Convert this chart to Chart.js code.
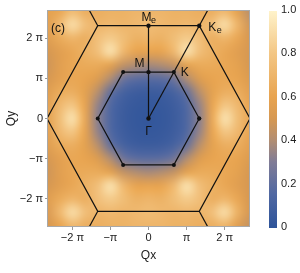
<!DOCTYPE html>
<html>
<head>
<meta charset="utf-8">
<script src="https://cdn.jsdelivr.net/npm/chart.js@4.4.0/dist/chart.umd.min.js"></script>
<style>
html, body { margin: 0; padding: 0; background: #fff; }
#wrap { width: 300px; height: 273px; }
</style>
</head>
<body>
<div id="wrap"><canvas id="chart" width="300" height="273"></canvas></div>
<script>
const PI = Math.PI;
const S3 = Math.sqrt(3);

// grid nodes, in units of pi/3 (same for Qx and Qy)
const gridSteps = [-8, -7, -6, -5, -4, -3, -2, -1, 0, 1, 2, 3, 4, 5, 6, 7, 8];

// intensity, rows from top (Qy = 8pi/3) to bottom (Qy = -8pi/3)
const intensity = [
    [0.58, 0.62, 0.74, 0.66, 0.66, 0.68, 0.68, 0.70, 0.70, 0.70, 0.68, 0.68, 0.66, 0.66, 0.72, 0.58, 0.42],
    [0.56, 0.72, 0.90, 0.76, 0.70, 0.72, 0.70, 0.72, 0.74, 0.72, 0.70, 0.72, 0.70, 0.76, 0.90, 0.70, 0.48],
    [0.55, 0.64, 0.70, 0.66, 0.76, 0.82, 0.75, 0.68, 0.70, 0.68, 0.75, 0.82, 0.76, 0.66, 0.70, 0.62, 0.50],
    [0.50, 0.56, 0.62, 0.68, 0.76, 0.92, 0.72, 0.60, 0.60, 0.60, 0.72, 0.92, 0.76, 0.68, 0.62, 0.56, 0.50],
    [0.48, 0.56, 0.62, 0.64, 0.64, 0.58, 0.45, 0.40, 0.38, 0.40, 0.45, 0.58, 0.64, 0.64, 0.62, 0.58, 0.50],
    [0.50, 0.57, 0.62, 0.60, 0.54, 0.40, 0.25, 0.19, 0.18, 0.19, 0.25, 0.40, 0.54, 0.60, 0.62, 0.60, 0.53],
    [0.55, 0.64, 0.66, 0.58, 0.42, 0.22, 0.11, 0.07, 0.06, 0.07, 0.11, 0.22, 0.42, 0.58, 0.66, 0.65, 0.57],
    [0.57, 0.72, 0.80, 0.60, 0.34, 0.15, 0.07, 0.04, 0.03, 0.04, 0.07, 0.15, 0.34, 0.60, 0.80, 0.72, 0.60],
    [0.58, 0.75, 0.92, 0.62, 0.32, 0.14, 0.06, 0.03, 0.02, 0.03, 0.06, 0.14, 0.32, 0.62, 0.92, 0.75, 0.62],
    [0.57, 0.72, 0.80, 0.60, 0.34, 0.15, 0.07, 0.04, 0.03, 0.04, 0.07, 0.15, 0.34, 0.60, 0.80, 0.72, 0.60],
    [0.55, 0.64, 0.66, 0.58, 0.42, 0.22, 0.11, 0.07, 0.06, 0.07, 0.11, 0.22, 0.42, 0.58, 0.66, 0.65, 0.57],
    [0.50, 0.57, 0.62, 0.60, 0.54, 0.40, 0.25, 0.19, 0.18, 0.19, 0.25, 0.40, 0.54, 0.60, 0.62, 0.60, 0.53],
    [0.48, 0.56, 0.62, 0.64, 0.64, 0.58, 0.45, 0.40, 0.38, 0.40, 0.45, 0.58, 0.64, 0.64, 0.62, 0.58, 0.50],
    [0.50, 0.56, 0.62, 0.68, 0.76, 0.92, 0.72, 0.60, 0.60, 0.60, 0.72, 0.92, 0.76, 0.68, 0.62, 0.56, 0.50],
    [0.55, 0.64, 0.70, 0.66, 0.76, 0.82, 0.75, 0.68, 0.70, 0.68, 0.75, 0.82, 0.76, 0.66, 0.70, 0.62, 0.50],
    [0.52, 0.72, 0.90, 0.76, 0.70, 0.72, 0.70, 0.72, 0.74, 0.72, 0.70, 0.72, 0.70, 0.76, 0.90, 0.68, 0.50],
    [0.50, 0.60, 0.72, 0.66, 0.66, 0.68, 0.68, 0.70, 0.70, 0.70, 0.68, 0.68, 0.66, 0.66, 0.70, 0.56, 0.45]
];

// axis ticks (multiples of pi) and colour bar ticks
const qTicks = [-2, -1, 0, 1, 2];
const qTickLabels = ['\u22122 \u03c0', '\u2212\u03c0', '0', '\u03c0', '2 \u03c0'];
const cbTicks = [0, 0.2, 0.4, 0.6, 0.8, 1.0];

// colour map stops
const cmapStops = [0, 0.15, 0.3, 0.4, 0.5, 0.6, 0.8, 1.0];
const cmapColors = [
    [46, 84, 154], [80, 104, 162], [128, 124, 150], [178, 142, 114],
    [214, 152, 82], [232, 164, 80], [243, 198, 132], [255, 244, 204]
];

// Brillouin zone corners, in units of pi
const innerHex = [[4/3, 0], [2/3, 2/S3], [-2/3, 2/S3], [-4/3, 0], [-2/3, -2/S3], [2/3, -2/S3], [4/3, 0]];
const outerHex = [[8/3, 0], [4/3, 4/S3], [-4/3, 4/S3], [-8/3, 0], [-4/3, -4/S3], [4/3, -4/S3], [8/3, 0]];
const outerSpurs = [
    [[4/3, 4/S3], [8/3, 8/S3]],
    [[-4/3, 4/S3], [-8/3, 8/S3]],
    [[4/3, -4/S3], [8/3, -8/S3]],
    [[-4/3, -4/S3], [-8/3, -8/S3]]
];
const pathGM = [[0, 0], [0, 4/S3]];
const pathGK = [[0, 0], [4/3, 4/S3]];
const symPoints = [[0, 0], [0, 2/S3], [0, 4/S3], [4/3, 4/S3]];

// high-symmetry labels: name, subscript, point (units of pi), pixel nudge
const symLabels = [
    { text: '\u0393', sub: '', at: [0, 0], dx: 0, dy: 13 },
    { text: 'M', sub: '', at: [0, 2/S3], dx: -9, dy: -8 },
    { text: 'K', sub: '', at: [2/3, 2/S3], dx: 11, dy: 1 },
    { text: 'M', sub: 'e', at: [0, 4/S3], dx: -2, dy: -8 },
    { text: 'K', sub: 'e', at: [4/3, 4/S3], dx: 13, dy: 2 }
];

const FONT = '"Liberation Sans", Arial, sans-serif';

function toPts(list) {
    return list.map(p => ({ x: p[0] * PI, y: p[1] * PI }));
}

function colorAt(v) {
    v = Math.max(0, Math.min(1, v));
    for (let k = 1; k < cmapStops.length; k++) {
        if (v <= cmapStops[k]) {
            const t = (v - cmapStops[k - 1]) / (cmapStops[k] - cmapStops[k - 1]);
            const a = cmapColors[k - 1], b = cmapColors[k];
            return a.map((c, n) => Math.round(c + (b[n] - c) * t));
        }
    }
    return cmapColors[cmapColors.length - 1];
}

// small bitmap of the intensity grid, one pixel per node
const heatCanvas = document.createElement('canvas');
heatCanvas.width = gridSteps.length;
heatCanvas.height = intensity.length;
(function () {
    const hctx = heatCanvas.getContext('2d');
    const img = hctx.createImageData(heatCanvas.width, heatCanvas.height);
    intensity.forEach((row, r) => {
        row.forEach((v, c) => {
            const rgb = colorAt(v);
            const o = (r * heatCanvas.width + c) * 4;
            img.data[o] = rgb[0]; img.data[o + 1] = rgb[1]; img.data[o + 2] = rgb[2]; img.data[o + 3] = 255;
        });
    });
    hctx.putImageData(img, 0, 0);
})();

const heatmapPlugin = {
    id: 'heatmap',
    beforeDatasetsDraw(chart) {
        const { ctx, chartArea: a, scales } = chart;
        const step = PI / 3;
        const x0 = scales.x.getPixelForValue((gridSteps[0] - 0.5) * step);
        const x1 = scales.x.getPixelForValue((gridSteps[gridSteps.length - 1] + 0.5) * step);
        const y0 = scales.y.getPixelForValue((gridSteps[gridSteps.length - 1] + 0.5) * step);
        const y1 = scales.y.getPixelForValue((gridSteps[0] - 0.5) * step);
        ctx.save();
        ctx.beginPath();
        ctx.rect(a.left, a.top, a.right - a.left, a.bottom - a.top);
        ctx.clip();
        ctx.imageSmoothingEnabled = true;
        ctx.imageSmoothingQuality = 'high';
        ctx.drawImage(heatCanvas, x0, y0, x1 - x0, y1 - y0);
        ctx.restore();

        // colour bar next to its axis
        const cb = scales.cb;
        const top = cb.getPixelForValue(1), bottom = cb.getPixelForValue(0);
        const grad = ctx.createLinearGradient(0, bottom, 0, top);
        cmapStops.forEach((s, k) => grad.addColorStop(s, 'rgb(' + cmapColors[k].join(',') + ')'));
        ctx.save();
        ctx.fillStyle = grad;
        ctx.fillRect(a.right + 19, top + 1, 8, bottom - top);
        ctx.restore();
    },
    afterDatasetsDraw(chart) {
        const { ctx, chartArea: a, scales } = chart;
        ctx.save();
        ctx.strokeStyle = '#a8a8a8';
        ctx.lineWidth = 1;
        ctx.strokeRect(a.left + 0.5, a.top + 0.5, a.right - a.left - 1, a.bottom - a.top - 1);

        ctx.fillStyle = '#111';
        ctx.textAlign = 'center';
        ctx.textBaseline = 'middle';
        symLabels.forEach(l => {
            const px = scales.x.getPixelForValue(l.at[0] * PI) + l.dx;
            const py = scales.y.getPixelForValue(l.at[1] * PI) + l.dy;
            ctx.font = '12px ' + FONT;
            ctx.fillText(l.text, px, py);
            if (l.sub) {
                ctx.font = '9px ' + FONT;
                ctx.fillText(l.sub, px + 7, py + 3);
            }
        });
        ctx.font = '12px ' + FONT;
        ctx.textAlign = 'left';
        ctx.fillText('(c)', a.left + 4, a.top + 19);
        ctx.restore();
    }
};

const lineStyle = { showLine: true, borderColor: '#111', borderWidth: 1.2, pointRadius: 0, fill: false };

const datasets = [
    Object.assign({ data: toPts(outerHex) }, lineStyle),
    ...outerSpurs.map(s => Object.assign({ data: toPts(s) }, lineStyle)),
    Object.assign({ data: toPts(innerHex) }, lineStyle, { pointRadius: 2, pointBackgroundColor: '#111', pointBorderWidth: 0 }),
    Object.assign({ data: toPts(pathGM) }, lineStyle),
    Object.assign({ data: toPts(pathGK) }, lineStyle),
    { data: toPts(symPoints), showLine: false, pointRadius: 2.2, pointBackgroundColor: '#111', pointBorderWidth: 0 }
];

function piTicks(scale) {
    scale.ticks = qTicks.map(k => ({ value: k * PI }));
}

// keep vertical axes from pushing the plot area down
function noVPad(s) {
    s.paddingTop = 0;
    s.paddingBottom = 0;
}

new Chart(document.getElementById('chart'), {
    type: 'scatter',
    data: { datasets },
    options: {
        responsive: false,
        animation: false,
        devicePixelRatio: 1,
        layout: { padding: { top: 10, left: 0, right: 0, bottom: 0 } },
        plugins: { legend: { display: false }, tooltip: { enabled: false } },
        scales: {
            x: {
                type: 'linear', position: 'bottom',
                min: -8 / 3 * PI, max: 8 / 3 * PI,
                afterBuildTicks: piTicks,
                afterFit: s => { s.height = 46; },
                ticks: {
                    color: '#222', font: { family: FONT, size: 11 }, padding: 1, maxRotation: 0,
                    callback: v => qTickLabels[qTicks.indexOf(Math.round(v / PI))]
                },
                grid: { drawOnChartArea: false, tickLength: 3, color: '#999' },
                border: { display: false },
                title: { display: true, text: 'Qx', color: '#222', font: { family: FONT, size: 12 }, padding: { top: 0, bottom: 10 } }
            },
            y: {
                type: 'linear', position: 'left',
                min: -2.7 * PI, max: 2.7 * PI,
                afterBuildTicks: piTicks,
                afterFit: s => { s.width = 47; noVPad(s); },
                ticks: {
                    color: '#222', font: { family: FONT, size: 11 }, padding: 2,
                    callback: v => qTickLabels[qTicks.indexOf(Math.round(v / PI))]
                },
                grid: { drawOnChartArea: false, tickLength: 2, color: '#999' },
                border: { display: false },
                title: { display: true, text: 'Qy', color: '#222', font: { family: FONT, size: 12 }, padding: { bottom: 6 } }
            },
            cb: {
                type: 'linear', position: 'right',
                min: 0, max: 1,
                afterBuildTicks: s => { s.ticks = cbTicks.map(v => ({ value: v })); },
                afterFit: s => { s.width = 50; noVPad(s); },
                ticks: {
                    color: '#222', font: { family: FONT, size: 11 }, padding: 31,
                    callback: v => v === 0 ? '0' : v.toFixed(1)
                },
                grid: { display: false, drawTicks: false },
                border: { display: false }
            }
        }
    },
    plugins: [heatmapPlugin]
});
</script>
</body>
</html>
